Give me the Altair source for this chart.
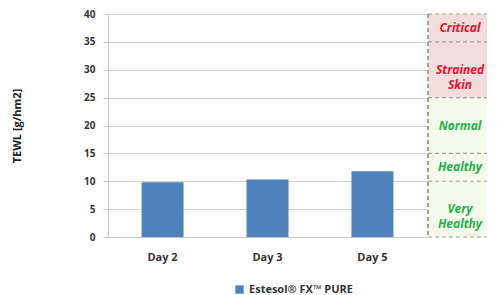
import altair as alt
import pandas as pd

days = ["Day 2", "Day 3", "Day 5"]
tewl = [9.8, 10.3, 11.8]
series_name = "Estesol® FX™ PURE"

zone_labels = ["Critical", "Strained|Skin", "Normal", "Healthy", "Very|Healthy"]
zone_lo = [35, 25, 15, 10, 0]
zone_hi = [40, 35, 25, 15, 10]
zone_kind = ["bad", "bad", "good", "good", "good"]
boundaries = [40, 35, 25, 15, 10, 0]

FONT = "Open Sans"

bars_df = pd.DataFrame({"day": days, "tewl": tewl, "series": [series_name] * len(days)})
zones_df = pd.DataFrame({"label": zone_labels, "lo": zone_lo, "hi": zone_hi, "kind": zone_kind})
zones_df["mid"] = (zones_df["lo"] + zones_df["hi"]) / 2
bound_df = pd.DataFrame({"b": boundaries})

yscale = alt.Scale(domain=[0, 40], nice=False)

bars = alt.Chart(bars_df).mark_bar(size=42).encode(
    x=alt.X("day:N", sort=days, title=None,
            scale=alt.Scale(paddingInner=0.6, paddingOuter=0.32),
            axis=alt.Axis(labelAngle=0, labelFont=FONT, labelFontWeight="bold", labelFontSize=11,
                          labelColor="#333333", ticks=False, labelPadding=14,
                          domainColor="#c8c8c8", grid=False)),
    y=alt.Y("tewl:Q", scale=yscale, title="TEWL [g/hm2]",
            axis=alt.Axis(values=[0, 5, 10, 15, 20, 25, 30, 35, 40], labelFont=FONT,
                          labelFontWeight="bold", labelFontSize=10, labelColor="#333333",
                          tickColor="#c8c8c8", tickSize=5, labelPadding=8,
                          domainColor="#c8c8c8", gridColor="#d0d0d0",
                          titleFont=FONT, titleFontWeight="bold", titleFontSize=11,
                          titleColor="#222222", titlePadding=61)),
    color=alt.Color("series:N", scale=alt.Scale(domain=[series_name], range=["#4f81bd"]),
                    legend=alt.Legend(title=None, orient="none", legendX=126, legendY=270,
                                      labelFont=FONT,
                                      labelFontWeight="bold", labelFontSize=11,
                                      labelColor="#333333", symbolType="square",
                                      symbolSize=70)),
).properties(width=319, height=223)

zone_rect = alt.Chart(zones_df).mark_rect().encode(
    x=alt.value(0), x2=alt.value(59),
    y=alt.Y("lo:Q", scale=yscale, axis=None), y2="hi:Q",
    fill=alt.Fill("kind:N", scale=alt.Scale(domain=["bad", "good"], range=["#f2dcdc", "#f4fbea"]),
                  legend=None),
)
zone_lines = alt.Chart(bound_df).mark_rule(color="#a0a0a0", strokeDash=[4, 3], strokeWidth=1.2).encode(
    x=alt.value(0), x2=alt.value(59), y=alt.Y("b:Q", scale=yscale, axis=None)
)
zone_vline = alt.Chart(bound_df).mark_rule(color="#a0a0a0", strokeDash=[4, 3], strokeWidth=1.2).encode(
    x=alt.value(0), y=alt.value(0), y2=alt.value(223)
)
zone_text = alt.Chart(zones_df).mark_text(font=FONT, fontStyle="italic", fontWeight="bold",
                                          fontSize=12, lineBreak="|", lineHeight=15).encode(
    x=alt.value(32), y=alt.Y("mid:Q", scale=yscale, axis=None), text="label:N",
    color=alt.Color("kind:N", scale=alt.Scale(domain=["bad", "good"], range=["#e8112d", "#1eb24e"]),
                    legend=None),
)
zones = alt.layer(zone_rect, zone_lines, zone_vline, zone_text).properties(width=59, height=223)

chart = alt.hconcat(bars, zones, spacing=0).resolve_scale(color="independent", y="shared").configure_view(
    stroke=None).properties(padding={"left": 3, "top": 1, "right": 0, "bottom": 0})

chart.save("out.html", embed_options={"renderer": "svg", "actions": False})
